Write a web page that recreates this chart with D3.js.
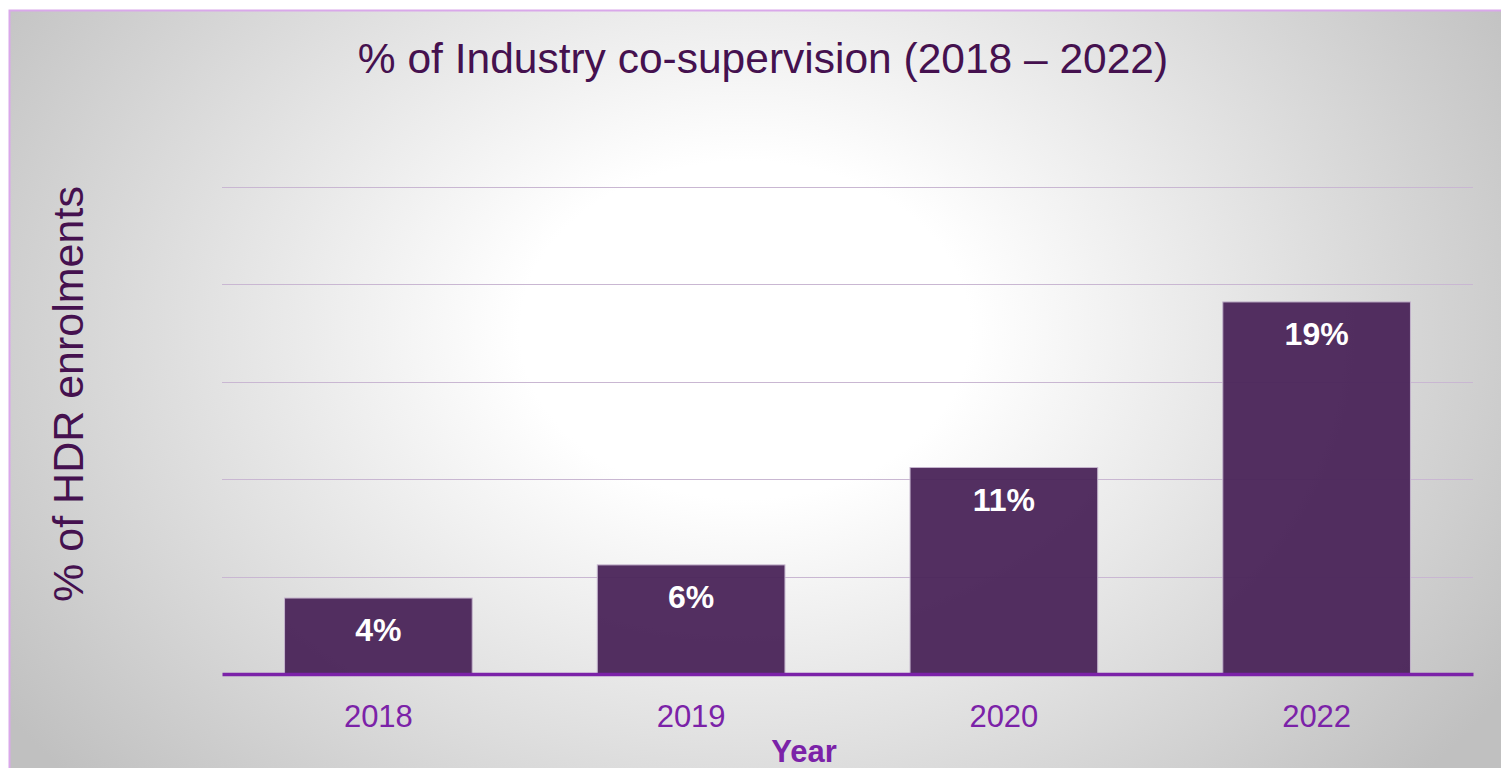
<!DOCTYPE html>
<html>
<head>
<meta charset="utf-8">
<script src="https://cdn.jsdelivr.net/npm/d3@7"></script>
<style>
  html, body { margin: 0; padding: 0; background: #fff; }
  svg { display: block; font-family: "Liberation Sans", Arial, sans-serif; }
</style>
</head>
<body>
<div id="chart"></div>
<script>
const years = ["2018", "2019", "2020", "2022"];
const shares = [3.9, 5.6, 10.6, 19.1];
const shareLabels = ["4%", "6%", "11%", "19%"];
const gridTicks = [0, 5, 10, 15, 20, 25];

const svg = d3.select("#chart").append("svg").attr("width", 1501).attr("height", 768);
const margin = { top: 187, right: 28, bottom: 94, left: 222 };
const width = 1501 - margin.left - margin.right;
const height = 768 - margin.top - margin.bottom;

const defs = svg.append("defs");
const grad = defs.append("radialGradient")
    .attr("id", "bg")
    .attr("gradientUnits", "userSpaceOnUse")
    .attr("cx", 745).attr("cy", 330).attr("r", 900)
    .attr("gradientTransform", "translate(745,330) scale(1,0.75) translate(-745,-330)");
grad.append("stop").attr("offset", "0.25").attr("stop-color", "#ffffff");
grad.append("stop").attr("offset", "1").attr("stop-color", "#c0c0c0");

svg.append("rect")
    .attr("x", 9.5).attr("y", 10.5)
    .attr("width", 1501).attr("height", 770)
    .attr("fill", "url(#bg)")
    .attr("stroke", "#d9a8ea")
    .attr("stroke-width", 2);

const g = svg.append("g").attr("transform", `translate(${margin.left},${margin.top})`);

const x = d3.scaleBand()
    .domain(years)
    .range([0, width])
    .paddingInner(0.4)
    .paddingOuter(0.2);

const y = d3.scaleLinear()
    .domain([0, 25])
    .range([height, 0]);

g.append("g")
    .attr("class", "grid")
    .selectAll("line")
    .data(gridTicks.slice(1))
    .enter().append("line")
    .attr("x1", 0).attr("x2", width)
    .attr("y1", d => Math.round(y(d)) + 0.5)
    .attr("y2", d => Math.round(y(d)) + 0.5)
    .attr("stroke", "#c9b7d2")
    .attr("stroke-width", 1.2);

g.selectAll(".bar")
    .data(shares)
    .enter().append("rect")
    .attr("class", "bar")
    .attr("x", (d, i) => x(years[i]))
    .attr("y", d => y(d))
    .attr("width", x.bandwidth())
    .attr("height", d => height - y(d))
    .attr("fill", "#4a2459")
    .attr("fill-opacity", 0.95)
    .attr("stroke", "#c4b4cc")
    .attr("stroke-width", 1);

g.selectAll(".bar-label")
    .data(shares)
    .enter().append("text")
    .attr("class", "bar-label")
    .attr("x", (d, i) => x(years[i]) + x.bandwidth() / 2)
    .attr("y", d => y(d) + 43)
    .attr("text-anchor", "middle")
    .attr("fill", "#ffffff")
    .style("font-size", "32px")
    .style("font-weight", "bold")
    .text((d, i) => shareLabels[i]);

const xAxis = g.append("g")
    .attr("class", "x-axis")
    .attr("transform", `translate(0,${height})`)
    .call(d3.axisBottom(x).tickSize(0).tickPadding(31));

xAxis.select(".domain")
    .attr("stroke", "#7b22a8")
    .attr("stroke-width", 3.5);

xAxis.selectAll("text")
    .attr("fill", "#7b22a8")
    .style("font-size", "31px")
    .style("font-family", "Liberation Sans, Arial, sans-serif");

svg.append("text")
    .attr("x", 763)
    .attr("y", 73)
    .attr("text-anchor", "middle")
    .attr("fill", "#45114f")
    .style("font-size", "42.5px")
    .text("% of Industry co-supervision (2018 – 2022)");

svg.append("text")
    .attr("transform", `translate(83,${394}) rotate(-90)`)
    .attr("text-anchor", "middle")
    .attr("fill", "#45114f")
    .style("font-size", "43px")
    .text("% of HDR enrolments");

svg.append("text")
    .attr("x", 804)
    .attr("y", 762)
    .attr("text-anchor", "middle")
    .attr("fill", "#7b22a8")
    .style("font-size", "31px")
    .style("font-weight", "bold")
    .text("Year");
</script>
</body>
</html>
